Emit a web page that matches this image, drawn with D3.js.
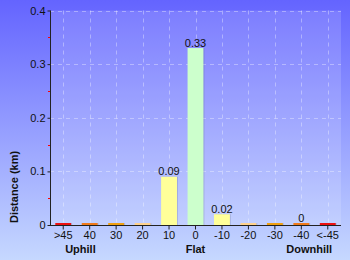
<!DOCTYPE html>
<html><head><meta charset="utf-8">
<script src="https://cdn.jsdelivr.net/npm/d3@7/dist/d3.min.js"></script>
<style>html,body{margin:0;padding:0;overflow:hidden;background:#fff}svg{display:block}</style>
</head><body>
<script>
const categories = [">45","40","30","20","10","0","-10","-20","-30","-40","<-45"];
const values = [0, 0, 0, 0, 0.09, 0.33, 0.02, 0, 0, 0.001, 0];
const valueLabels = ["", "", "", "", "0.09", "0.33", "0.02", "", "", "0", ""];
const barColors = ["#ee1111","#f07a1a","#f0a010","#ffd28c","#ffff99","#ccffcc","#ffff99","#ffd28c","#f0a010","#f07a1a","#ee1111"];
const yTicks = [0, 0.1, 0.2, 0.3, 0.4];
const yMinorTicks = [0.05, 0.15, 0.25, 0.35];
const groupLabels = [{text:"Uphill", at:">45", shift:0.65}, {text:"Flat", at:"0", shift:0}, {text:"Downhill", at:"-40", shift:0.3}];
const yTitle = "Distance (km)";

const W = 350, H = 260;
const L = 50, R = 341, T = 10.5, B = 225;
const svg = d3.select("body").append("svg").attr("width", W).attr("height", H);
const defs = svg.append("defs");
const bg = defs.append("linearGradient").attr("id","bg").attr("x1",0).attr("y1",0).attr("x2",0).attr("y2",1);
bg.append("stop").attr("offset","0%").attr("stop-color","#6464ff");
bg.append("stop").attr("offset","100%").attr("stop-color","#c6d8ff");
svg.append("rect").attr("width",W).attr("height",H).attr("fill","url(#bg)");
svg.append("rect").attr("x",L).attr("y",T).attr("width",R-L).attr("height",B-T).attr("fill","#ffffff").attr("fill-opacity",0.14);

const x = d3.scaleBand().domain(categories).range([L, R]).paddingInner(0.4).paddingOuter(0.2);
const y = d3.scaleLinear().domain([0, 0.4]).range([B, T]);

// gridlines
const grid = svg.append("g").attr("stroke","#ffffff").attr("stroke-opacity",0.35).attr("stroke-dasharray","4,4").attr("stroke-width",1);
grid.selectAll(".v").data(categories).enter().append("line")
  .attr("x1", d => Math.round(x(d) + x.bandwidth()/2) + 0.5).attr("x2", d => Math.round(x(d) + x.bandwidth()/2) + 0.5)
  .attr("y1", T).attr("y2", B);
grid.selectAll(".h").data(yTicks.slice(1)).enter().append("line")
  .attr("x1", L).attr("x2", R).attr("y1", d => Math.round(y(d)) + 0.5).attr("y2", d => Math.round(y(d)) + 0.5);

// bars
const bars = svg.append("g");
const minH = 2;
bars.selectAll(".sh").data(values).enter().append("rect")
  .attr("x", (d,i) => x(categories[i]) + 1)
  .attr("y", d => Math.min(y(d), B - minH))
  .attr("width", x.bandwidth())
  .attr("height", d => Math.max(B - y(d), minH))
  .attr("fill", "#000").attr("fill-opacity", 0.12);
bars.selectAll(".b").data(values).enter().append("rect")
  .attr("x", (d,i) => x(categories[i]))
  .attr("y", d => Math.min(y(d), B - minH))
  .attr("width", x.bandwidth())
  .attr("height", d => Math.max(B - y(d), minH))
  .attr("fill", (d,i) => barColors[i]);
bars.selectAll(".lbl").data(values).enter().append("text")
  .attr("x", (d,i) => x(categories[i]) + x.bandwidth()/2)
  .attr("y", d => Math.min(y(d), B - minH) - 1.5)
  .attr("text-anchor","middle")
  .attr("font-family","'Liberation Sans', Arial, sans-serif").attr("font-size","11px").attr("fill","#111")
  .text((d,i) => valueLabels[i]);

// y axis
const yAxis = d3.axisLeft(y).tickValues(yTicks).tickSize(3).tickPadding(2).tickFormat(d => d === 0 ? "0" : d3.format(".1f")(d));
const ga = svg.append("g").attr("transform", `translate(${L+0.5},0)`).call(yAxis);
ga.select(".domain").attr("stroke","#222").attr("d", `M0,${T}V${B}`);
ga.selectAll(".tick line").attr("stroke","#222");
ga.selectAll(".tick text").attr("font-family","'Liberation Sans', Arial, sans-serif").attr("font-size","11px").attr("fill","#111");
svg.append("g").selectAll("line").data(yMinorTicks).enter().append("line")
  .attr("x1", L-2).attr("x2", L).attr("y1", d => Math.round(y(d))+0.5).attr("y2", d => Math.round(y(d))+0.5)
  .attr("stroke","#ff0000").attr("stroke-width",1);

// x axis
const xAxis = d3.axisBottom(x).tickSize(4).tickPadding(1.5);
const gx = svg.append("g").attr("transform", `translate(0,${B+0.5})`).call(xAxis);
gx.select(".domain").attr("stroke","#222").attr("d", `M${L},0H${R}`);
gx.selectAll(".tick line").attr("stroke","#222");
gx.selectAll(".tick text").attr("font-family","'Liberation Sans', Arial, sans-serif").attr("font-size","11px").attr("fill","#111");

// group labels
svg.append("g").selectAll("text").data(groupLabels).enter().append("text")
  .attr("x", d => x(d.at) + x.bandwidth()/2 + d.shift * x.step())
  .attr("y", 252.5)
  .attr("text-anchor","middle")
  .attr("font-family","'Liberation Sans', Arial, sans-serif").attr("font-size","11px").attr("font-weight","bold").attr("fill","#111")
  .text(d => d.text);

// y title
svg.append("text").attr("transform", "translate(18,223) rotate(-90)")
  .attr("text-anchor","start")
  .attr("font-family","'Liberation Sans', Arial, sans-serif").attr("font-size","11px").attr("font-weight","bold").attr("fill","#111")
  .text(yTitle);
</script>
</body></html>
